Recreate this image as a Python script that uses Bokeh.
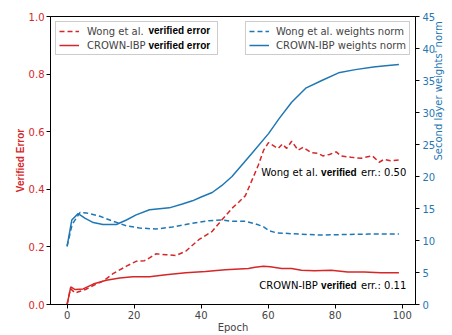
import math
from bokeh.plotting import figure
from bokeh.models import (Range1d, LinearAxis, Legend, LegendItem, Label,
                          FixedTicker, PrintfTickFormatter)
from bokeh.embed import file_html
from bokeh.resources import INLINE

RED = "#d62728"
BLUE = "#1f77b4"

# ---- data ----
wong_err_epoch = [0, 1, 2.4, 3.9, 5.5, 7.8, 10.7, 13.7, 17.7, 20.6, 23.1, 24.6, 26.5,
                  29.5, 32.5, 35.4, 39.3, 43.3, 46.2, 49.2, 51.2, 53.2, 55.1, 57.1,
                  58.6, 60.1, 62.0, 63.0, 64.2, 65.5, 67.0, 68.9, 70.4, 72.9, 74.9,
                  76.3, 78.3, 80.3, 81.7, 84.7, 87.7, 91.1, 93.1, 94.6, 96.5, 99]
wong_err = [0, 0.055, 0.040, 0.046, 0.052, 0.066, 0.081, 0.107, 0.133, 0.150, 0.152,
            0.162, 0.176, 0.173, 0.170, 0.185, 0.225, 0.254, 0.294, 0.334, 0.355,
            0.378, 0.43, 0.485, 0.535, 0.562, 0.548, 0.542, 0.557, 0.542, 0.567,
            0.536, 0.546, 0.527, 0.525, 0.516, 0.521, 0.530, 0.516, 0.511, 0.508,
            0.516, 0.494, 0.504, 0.499, 0.502]

crown_err_epoch = [0, 1.1, 2.4, 4.8, 7.8, 11.7, 15.7, 19.6, 24.6, 29.5, 35.4, 41.3,
                   47.2, 54.1, 56.1, 58.6, 60.6, 64, 67, 69.9, 73.8, 78.8, 83.7,
                   88.6, 93.6, 99]
crown_err = [0, 0.061, 0.052, 0.054, 0.071, 0.084, 0.092, 0.096, 0.096, 0.103, 0.110,
             0.115, 0.121, 0.125, 0.129, 0.133, 0.131, 0.125, 0.125, 0.119, 0.117,
             0.119, 0.113, 0.113, 0.110, 0.110]

wong_norm_epoch = [0, 1.5, 3.9, 5.8, 9.8, 13.7, 17.7, 21.6, 26.5, 31.4, 37.4, 42.3,
                   46.2, 49.2, 53.2, 56.1, 58.4, 60.4, 62.5, 67, 75, 80, 90, 99]
wong_norm = [9.1, 12.5, 14.4, 14.3, 13.8, 13.0, 12.3, 11.95, 11.8, 12.1, 12.7, 13.1,
             13.2, 13.0, 13.0, 12.6, 12.2, 11.5, 11.2, 11.06, 10.85, 10.9, 11.0, 11.0]

crown_norm_epoch = [0, 1.4, 3.3, 5.3, 7.8, 10.7, 14.7, 17.7, 20.6, 24.6, 30.5, 34.4,
                    37.4, 40, 43.3, 46.2, 49.2, 55.1, 60.1, 63.2, 67, 71.2, 76, 81,
                    86, 91.4, 95, 99]
crown_norm = [9.1, 13.2, 14.2, 13.5, 12.8, 12.5, 12.5, 13.2, 14.0, 14.8, 15.1, 15.7,
              16.2, 16.8, 17.5, 18.6, 20.0, 23.6, 26.7, 29.0, 31.6, 33.8, 35.0, 36.2,
              36.7, 37.1, 37.3, 37.5]

x_ticks = [0, 20, 40, 60, 80, 100]
err_ticks = [0.0, 0.2, 0.4, 0.6, 0.8, 1.0]
norm_ticks = [0, 5, 10, 15, 20, 25, 30, 35, 40, 45]

FONT = "DejaVu Sans"
BOLD_FONT = "Liberation Sans"
FS = "10px"

p = figure(width=452, height=335, output_backend="svg", toolbar_location=None,
           x_range=Range1d(-4.95, 103.95), y_range=Range1d(0, 1.0),
           min_border_left=50, min_border_top=16, min_border_right=33,
           min_border_bottom=0)
p.extra_y_ranges = {"norm": Range1d(0, 45)}
p.grid.visible = False
p.outline_line_color = "black"
p.outline_line_alpha = 1
p.outline_line_width = 1
p.background_fill_color = "white"
p.border_fill_color = "white"

# x axis
xa = p.xaxis[0]
xa.ticker = FixedTicker(ticks=x_ticks)
xa.axis_label = "Epoch"
# y axis (left)
ya = p.yaxis[0]
ya.ticker = FixedTicker(ticks=err_ticks)
ya.formatter = PrintfTickFormatter(format="%.1f")
ya.axis_label = "Verified Error"

# right axis
ra = LinearAxis(y_range_name="norm", ticker=FixedTicker(ticks=norm_ticks),
                axis_label="Second layer weights' norm")
p.add_layout(ra, "right")

for ax in [xa, ya, ra]:
    ax.major_tick_out = 4
    ax.major_tick_in = 0
    ax.minor_tick_out = 0
    ax.minor_tick_in = 0
    ax.axis_line_color = "black"
    ax.major_tick_line_color = "black"
    ax.major_label_text_font = FONT
    ax.major_label_text_font_size = FS
    ax.axis_label_text_font = FONT
    ax.axis_label_text_font_size = FS
    ax.axis_label_text_font_style = "normal"
    ax.major_label_standoff = 2

xa.axis_label_standoff = 0
ya.major_label_text_color = RED
ya.axis_label_text_color = RED
ya.axis_label_text_font = BOLD_FONT
ya.axis_label_text_font_style = "bold"
ya.axis_label_standoff = 0
ra.major_label_text_color = BLUE
ra.axis_label_text_color = BLUE
ra.major_label_standoff = 3
ra.axis_label_standoff = 0
ra.axis_label_text_line_height = 1.0
try:
    ra.axis_label_orientation = math.pi / 2
except Exception:
    pass

# lines
r_wn = p.line(wong_norm_epoch, wong_norm, y_range_name="norm", color=BLUE,
              line_width=1.5, line_dash="5 3")
r_cn = p.line(crown_norm_epoch, crown_norm, y_range_name="norm", color=BLUE,
              line_width=1.5)
r_we = p.line(wong_err_epoch, wong_err, color=RED, line_width=1.5, line_dash="5 3")
r_ce = p.line(crown_err_epoch, crown_err, color=RED, line_width=1.5)

def style_legend(lg):
    lg.label_text_font = FONT
    lg.label_text_font_size = FS
    lg.border_line_color = "#cccccc"
    lg.border_line_alpha = 1
    lg.background_fill_alpha = 0.0
    lg.glyph_width = 20
    lg.glyph_height = 12
    lg.label_height = 12
    lg.padding = 3
    lg.spacing = 2
    lg.margin = 5

leg1 = Legend(items=[LegendItem(label="Wong et al.", renderers=[r_we]),
                     LegendItem(label="CROWN-IBP", renderers=[r_ce])],
              location="top_left")
style_legend(leg1)
leg1.label_standoff = 8
leg1.label_width = 127
p.add_layout(leg1, "center")

leg2 = Legend(items=[LegendItem(label="Wong et al. weights norm", renderers=[r_wn]),
                     LegendItem(label="CROWN-IBP weights norm", renderers=[r_cn])],
              location="top_right")
style_legend(leg2)
leg2.label_standoff = 7
leg2.label_width = 130
p.add_layout(leg2, "center")

# bold parts of the left legend labels (screen units, from the frame's bottom-left)
for txt, yy in [("verified error", 274), ("verified error", 259)]:
    p.add_layout(Label(x=98, y=yy, x_units="screen", y_units="screen", text=txt,
                       text_font=BOLD_FONT, text_font_style="bold",
                       text_font_size=FS, text_color="black",
                       text_baseline="middle", level="overlay"))

# annotations with mixed weight
def annot(y, first, last):
    xr = 101.2
    p.add_layout(Label(x=xr, y=y, text=last, text_align="right",
                       text_baseline="middle", text_font=FONT, text_font_size=FS,
                       text_color="black"))
    p.add_layout(Label(x=xr, y=y, x_offset=-49.6, text="verified", text_align="right",
                       text_baseline="middle", text_font=BOLD_FONT,
                       text_font_style="bold", text_font_size=FS, text_color="black"))
    p.add_layout(Label(x=xr, y=y, x_offset=-88.4, text=first, text_align="right",
                       text_baseline="middle", text_font=FONT, text_font_size=FS,
                       text_color="black"))

annot(0.457, "Wong et al.", "err.: 0.50")
annot(0.066, "CROWN-IBP", "err.: 0.11")

open("out.html", "w").write(file_html(p, INLINE))
